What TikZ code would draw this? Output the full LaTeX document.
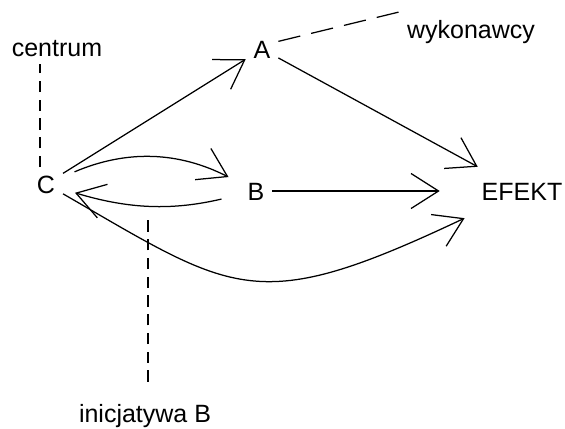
\documentclass[tikz,border=0pt]{standalone}
\usepackage{fontspec}
\setmainfont{Liberation Sans}
\usetikzlibrary{arrows.meta}

\begin{document}
\begin{tikzpicture}[x=0.4pt, y=0.4pt, every node/.style={font=\fontsize{10pt}{12pt}\selectfont}]
\tikzset{lbl/.style={inner sep=3pt, text height=7.2pt, text depth=0pt}}
\tikzset{arrow/.style={-{Straight Barb[length=11pt,width=14pt]}, line width=0.5pt}}
\tikzset{dashlink/.style={line width=0.5pt, dash pattern=on 4.5pt off 3pt}}
\useasboundingbox (0,0) rectangle (565,428);
\node[lbl] (centrum) at (57,381) {centrum};
\node[lbl] (A) at (262,379) {A};
\node[lbl] (wyk) at (471,399) {wykonawcy};
\node[lbl] (C) at (46,244) {C};
\node[lbl] (B) at (256,237) {B};
\node[lbl] (efekt) at (522,237) {EFEKT};
\node[lbl] (inic) at (145,15) {inicjatywa B};
\coordinate (initop) at (148,213);
\draw[dashlink] ([xshift=-2.4pt]C.north) -- ([xshift=-2.4pt]C.north |- centrum.south);
\draw[dashlink, dash pattern=on 9pt off 4.5pt] (A.25) -- (wyk.north west);
\draw[dashlink, shorten <=5.8pt] (initop |- inic.north) -- (initop);
\draw[arrow] (C) -- (A);
\draw[arrow, shorten >=6pt] (A) -- (efekt);
\draw[arrow, shorten <=5pt, shorten >=5pt] (C) to[bend left=25] (B);
\draw[arrow, shorten <=7.5pt, shorten >=5pt] (B) to[bend left=15] (C);
\draw[arrow, shorten >=13.6pt] (B) -- (efekt);
\draw[arrow, shorten >=9.5pt] (C) .. controls +(-30:219) and +(-154.7:295) .. (efekt);
\end{tikzpicture}
\end{document}
